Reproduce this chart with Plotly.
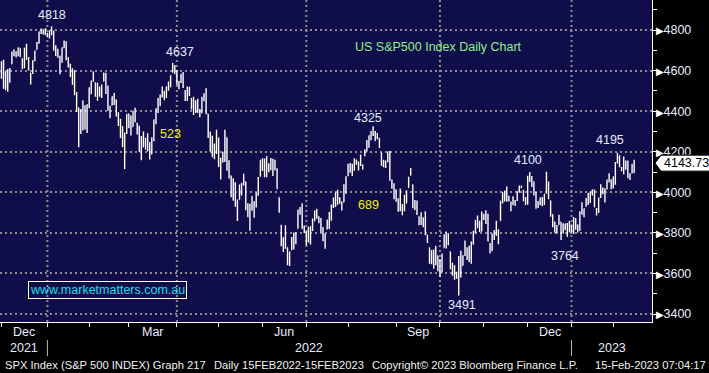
import plotly.graph_objects as go

# ---------------- data (S&P 500 daily OHLC) ----------------
month_days = {
    "2021-11": [30],
    "2021-12": [1, 2, 3, 6, 7, 8, 9, 10, 13, 14, 15, 16, 17, 20, 21, 22, 23, 27, 28, 29, 30, 31],
    "2022-01": [3, 4, 5, 6, 7, 10, 11, 12, 13, 14, 18, 19, 20, 21, 24, 25, 26, 27, 28, 31],
    "2022-02": [1, 2, 3, 4, 7, 8, 9, 10, 11, 14, 15, 16, 17, 18, 22, 23, 24, 25, 28],
    "2022-03": [1, 2, 3, 4, 7, 8, 9, 10, 11, 14, 15, 16, 17, 18, 21, 22, 23, 24, 25, 28, 29, 30, 31],
    "2022-04": [1, 4, 5, 6, 7, 8, 11, 12, 13, 14, 18, 19, 20, 21, 22, 25, 26, 27, 28, 29],
    "2022-05": [2, 3, 4, 5, 6, 9, 10, 11, 12, 13, 16, 17, 18, 19, 20, 23, 24, 25, 26, 27, 31],
    "2022-06": [1, 2, 3, 6, 7, 8, 9, 10, 13, 14, 15, 16, 17, 21, 22, 23, 24, 27, 28, 29, 30],
    "2022-07": [1, 5, 6, 7, 8, 11, 12, 13, 14, 15, 18, 19, 20, 21, 22, 25, 26, 27, 28, 29],
    "2022-08": [1, 2, 3, 4, 5, 8, 9, 10, 11, 12, 15, 16, 17, 18, 19, 22, 23, 24, 25, 26, 29, 30, 31],
    "2022-09": [1, 2, 6, 7, 8, 9, 12, 13, 14, 15, 16, 19, 20, 21, 22, 23, 26, 27, 28, 29, 30],
    "2022-10": [3, 4, 5, 6, 7, 10, 11, 12, 13, 14, 17, 18, 19, 20, 21, 24, 25, 26, 27, 28, 31],
    "2022-11": [1, 2, 3, 4, 7, 8, 9, 10, 11, 14, 15, 16, 17, 18, 21, 22, 23, 25, 28, 29, 30],
    "2022-12": [1, 2, 5, 6, 7, 8, 9, 12, 13, 14, 15, 16, 19, 20, 21, 22, 23, 27, 28, 29, 30],
    "2023-01": [3, 4, 5, 6, 9, 10, 11, 12, 13, 17, 18, 19, 20, 23, 24, 25, 26, 27, 30, 31],
    "2023-02": [1, 2, 3, 6, 7, 8, 9, 10, 13, 14],
}

opens = [
    4640.2,
    4602.8, 4504.7, 4589.5, 4548.4, 4632.0, 4690.9, 4691.0, 4687.6, 4710.3, 4642.0, 4636.5, 4719.1, 4652.5, 4587.9, 4595.0, 4650.4, 4704.0, 4734.0, 4795.5, 4788.6, 4794.2, 4775.2,
    4778.1, 4804.5, 4788.0, 4693.4, 4697.7, 4655.3, 4669.1, 4728.6, 4733.6, 4638.0, 4632.2, 4588.0, 4547.4, 4471.4, 4356.3, 4366.6, 4408.4, 4380.6, 4336.2, 4431.8,
    4519.6, 4566.4, 4535.4, 4482.8, 4505.8, 4480.0, 4547.0, 4553.2, 4506.3, 4412.6, 4429.3, 4455.8, 4456.1, 4384.6, 4332.7, 4324.9, 4155.8, 4298.4, 4354.2,
    4363.1, 4322.6, 4401.3, 4342.1, 4327.0, 4202.7, 4223.1, 4252.6, 4279.5, 4202.8, 4188.8, 4288.1, 4345.1, 4407.3, 4462.4, 4469.1, 4493.1, 4470.0, 4522.7, 4541.1, 4602.9, 4624.2, 4599.0,
    4540.3, 4548.0, 4572.5, 4494.2, 4474.7, 4494.2, 4462.6, 4437.6, 4394.3, 4449.1, 4385.6, 4390.6, 4472.3, 4489.2, 4385.8, 4255.3, 4278.1, 4186.5, 4222.6, 4253.8,
    4130.6, 4159.8, 4181.2, 4270.4, 4128.2, 4081.3, 4035.2, 3990.1, 3904.0, 3963.9, 4013.0, 4052.0, 4052.0, 3899.0, 3927.8, 3919.4, 3942.9, 3929.6, 3984.6, 4077.4, 4151.1,
    4149.8, 4095.4, 4137.6, 4134.7, 4096.5, 4147.1, 4101.7, 3974.4, 3838.2, 3763.5, 3764.1, 3728.2, 3665.9, 3715.3, 3733.9, 3774.7, 3821.8, 3920.8, 3913.0, 3825.1, 3786.0,
    3781.0, 3792.6, 3832.0, 3858.9, 3888.3, 3880.9, 3852.0, 3779.7, 3764.0, 3818.0, 3883.8, 3860.7, 3935.3, 3955.5, 3998.4, 3965.7, 3953.2, 3951.4, 4026.1, 4087.3,
    4112.4, 4104.2, 4108.0, 4154.9, 4115.9, 4155.9, 4133.1, 4181.0, 4227.4, 4225.0, 4269.4, 4290.5, 4280.4, 4273.1, 4266.3, 4195.1, 4133.1, 4126.6, 4153.3, 4198.7, 4034.6, 4041.3, 4000.7,
    3936.7, 3994.7, 3930.9, 3909.4, 3959.9, 4022.9, 4083.7, 4037.1, 3940.7, 3932.4, 3881.0, 3849.9, 3875.2, 3871.4, 3782.4, 3727.1, 3682.7, 3686.4, 3651.9, 3687.0, 3633.5,
    3609.8, 3726.5, 3753.2, 3772.0, 3706.7, 3647.5, 3595.9, 3590.8, 3520.4, 3690.4, 3638.7, 3746.3, 3703.1, 3689.1, 3657.1, 3762.0, 3799.4, 3826.0, 3834.7, 3808.3, 3881.9,
    3901.8, 3852.9, 3733.3, 3767.0, 3780.7, 3817.0, 3810.9, 3859.9, 3963.7, 3978.0, 4006.4, 3976.8, 3919.3, 3966.4, 3956.2, 3965.5, 4000.3, 4023.3, 4005.4, 3964.2, 3957.2,
    4087.1, 4040.2, 4052.0, 3996.6, 3933.3, 3947.8, 3954.2, 3939.3, 4069.4, 4015.5, 3958.4, 3890.9, 3853.8, 3810.5, 3839.5, 3853.3, 3815.1, 3843.3, 3829.6, 3805.5, 3829.1,
    3853.3, 3840.4, 3839.7, 3823.4, 3910.8, 3888.6, 3932.4, 3977.6, 3960.6, 3999.3, 4002.3, 3911.8, 3909.0, 3978.1, 4001.7, 3982.7, 4036.1, 4053.7, 4049.3, 4020.9,
    4070.1, 4158.7, 4136.7, 4119.6, 4105.4, 4153.0, 4144.3, 4068.9, 4096.6, 4126.7,
]

highs = [
    4646.0,
    4652.9, 4595.5, 4608.0, 4612.6, 4694.0, 4705.1, 4695.3, 4713.6, 4710.3, 4660.5, 4712.6, 4732.0, 4666.7, 4587.9, 4651.1, 4697.7, 4740.7, 4791.5, 4807.0, 4804.1, 4808.9, 4786.8,
    4796.6, 4818.6, 4797.7, 4725.0, 4708.0, 4673.0, 4714.1, 4748.8, 4744.1, 4665.1, 4632.2, 4611.6, 4602.1, 4494.5, 4417.4, 4411.0, 4453.2, 4428.7, 4432.7, 4516.9,
    4550.5, 4595.3, 4542.9, 4539.7, 4521.9, 4531.3, 4590.0, 4588.9, 4526.3, 4426.2, 4472.8, 4489.6, 4456.1, 4394.6, 4362.1, 4325.7, 4294.7, 4385.3, 4388.8,
    4378.5, 4401.5, 4416.8, 4342.1, 4327.0, 4276.9, 4299.4, 4268.3, 4291.0, 4247.6, 4271.1, 4358.0, 4412.7, 4465.4, 4481.8, 4522.0, 4501.1, 4520.6, 4546.0, 4575.6, 4637.3, 4627.8, 4603.1,
    4548.7, 4583.5, 4593.5, 4503.9, 4521.2, 4520.4, 4464.4, 4471.0, 4453.9, 4460.5, 4410.3, 4471.0, 4488.3, 4512.9, 4385.8, 4299.0, 4278.1, 4240.7, 4308.5, 4269.7,
    4169.8, 4200.1, 4307.7, 4270.4, 4157.7, 4081.3, 4068.8, 4049.1, 3964.8, 4038.9, 4046.5, 4090.7, 4052.0, 3946.0, 3943.4, 3981.9, 3955.7, 3999.3, 4075.1, 4158.5, 4168.3,
    4166.5, 4177.5, 4142.7, 4168.8, 4164.9, 4160.1, 4119.1, 3974.4, 3838.2, 3778.2, 3837.6, 3728.2, 3707.7, 3779.7, 3801.8, 3802.6, 3913.7, 3927.7, 3945.9, 3836.5, 3807.9,
    3829.8, 3832.2, 3870.9, 3910.6, 3918.5, 3880.9, 3873.4, 3829.4, 3796.4, 3863.6, 3902.4, 3939.8, 3974.1, 3999.3, 4012.4, 3975.3, 3953.2, 4039.6, 4079.0, 4140.2,
    4144.9, 4140.5, 4167.7, 4161.3, 4151.6, 4186.6, 4137.3, 4211.0, 4257.9, 4280.5, 4301.8, 4325.3, 4302.2, 4292.5, 4266.3, 4195.1, 4159.8, 4156.6, 4200.5, 4203.0, 4063.0, 4045.0, 4015.4,
    3970.2, 4018.4, 3942.6, 3987.9, 4010.5, 4076.8, 4119.3, 4037.1, 3961.9, 3959.1, 3881.0, 3900.5, 3876.0, 3907.1, 3790.2, 3727.1, 3715.7, 3717.5, 3736.7, 3687.0, 3671.4,
    3698.3, 3791.9, 3806.9, 3797.9, 3706.7, 3652.2, 3640.7, 3608.3, 3685.4, 3712.0, 3689.7, 3762.8, 3728.6, 3736.0, 3757.9, 3810.7, 3862.8, 3886.2, 3859.9, 3905.4, 3893.7,
    3911.8, 3894.4, 3750.6, 3796.3, 3814.0, 3859.4, 3818.2, 3958.3, 4001.5, 4009.0, 4028.8, 3983.1, 3954.3, 3979.9, 3962.0, 4003.5, 4033.8, 4034.0, 4012.3, 3976.8, 4080.1,
    4100.5, 4080.5, 4052.5, 4001.5, 3957.6, 3974.2, 3977.0, 3990.7, 4101.0, 4053.8, 3958.4, 3890.9, 3854.9, 3838.2, 3889.3, 3853.3, 3845.8, 3846.7, 3848.3, 3858.2, 3839.9,
    3878.5, 3873.2, 3839.7, 3906.2, 3950.6, 3919.8, 3970.1, 3997.8, 4004.0, 4015.4, 4014.2, 3922.9, 3973.0, 4039.3, 4023.9, 4019.6, 4061.6, 4094.2, 4063.9, 4077.2,
    4149.0, 4195.4, 4182.4, 4124.6, 4176.5, 4156.9, 4156.2, 4094.4, 4138.9, 4159.8,
]

lows = [
    4560.0,
    4510.3, 4504.7, 4495.1, 4540.5, 4632.0, 4670.9, 4666.0, 4670.2, 4666.6, 4606.5, 4611.2, 4651.9, 4600.2, 4531.1, 4583.2, 4645.5, 4704.0, 4734.0, 4780.0, 4778.1, 4775.3, 4765.8,
    4758.2, 4774.3, 4699.4, 4671.3, 4662.7, 4582.2, 4638.3, 4710.0, 4650.3, 4614.8, 4568.7, 4530.2, 4478.0, 4395.3, 4222.6, 4287.1, 4304.8, 4309.5, 4292.5, 4414.0,
    4483.5, 4544.3, 4470.4, 4451.5, 4471.5, 4465.4, 4547.0, 4484.3, 4401.4, 4364.8, 4429.3, 4429.7, 4373.8, 4327.2, 4267.1, 4223.8, 4114.7, 4286.8, 4315.1,
    4279.5, 4322.6, 4345.6, 4285.0, 4199.9, 4157.9, 4223.1, 4209.8, 4200.5, 4161.7, 4187.9, 4252.0, 4335.7, 4390.6, 4424.3, 4469.1, 4455.8, 4465.2, 4501.1, 4517.7, 4589.7, 4581.3, 4530.4,
    4507.6, 4539.2, 4514.2, 4450.0, 4450.3, 4474.6, 4408.4, 4381.3, 4392.7, 4390.8, 4370.3, 4390.6, 4448.8, 4384.5, 4267.6, 4200.8, 4175.0, 4162.9, 4188.6, 4124.3,
    4062.5, 4147.1, 4148.9, 4106.0, 4067.9, 3975.5, 3958.2, 3928.8, 3858.9, 3963.9, 3984.0, 4033.9, 3911.9, 3876.6, 3810.3, 3909.0, 3875.1, 3925.0, 3984.6, 4077.4, 4104.9,
    4073.9, 4074.4, 4098.7, 4109.2, 4080.2, 4107.2, 4017.2, 3900.2, 3734.3, 3705.7, 3722.3, 3639.8, 3636.9, 3715.3, 3717.7, 3743.5, 3821.8, 3889.7, 3820.1, 3799.0, 3738.7,
    3752.1, 3742.1, 3809.4, 3858.9, 3869.3, 3847.2, 3802.4, 3759.1, 3721.6, 3817.2, 3818.6, 3860.7, 3922.0, 3927.6, 3938.9, 3943.5, 3910.7, 3951.4, 3993.0, 4079.2,
    4096.0, 4079.8, 4108.0, 4135.4, 4107.3, 4129.0, 4112.1, 4177.3, 4201.4, 4219.8, 4256.9, 4277.8, 4253.1, 4262.0, 4218.7, 4129.9, 4124.0, 4120.0, 4147.6, 4057.7, 4017.4, 3965.2, 3954.5,
    3903.7, 3906.2, 3886.6, 3906.0, 3944.8, 4022.9, 4083.7, 3921.4, 3912.2, 3888.3, 3837.1, 3838.5, 3827.5, 3789.5, 3749.5, 3647.5, 3644.8, 3623.3, 3640.6, 3610.4, 3584.1,
    3604.9, 3726.5, 3722.7, 3739.2, 3620.7, 3588.1, 3568.5, 3573.9, 3491.6, 3579.7, 3638.7, 3686.5, 3666.5, 3656.4, 3647.4, 3741.7, 3799.4, 3824.1, 3803.8, 3808.3, 3863.2,
    3843.8, 3758.7, 3698.2, 3708.8, 3764.7, 3786.3, 3744.2, 3859.9, 3944.8, 3956.4, 3953.2, 3954.3, 3906.5, 3936.0, 3933.3, 3956.9, 3998.7, 4020.8, 3955.8, 3937.7, 3938.6,
    4050.9, 4026.6, 3984.5, 3918.4, 3922.7, 3935.8, 3933.0, 3937.7, 3993.0, 3965.7, 3879.5, 3827.9, 3800.0, 3795.6, 3839.5, 3764.5, 3797.0, 3813.2, 3780.8, 3805.5, 3800.3,
    3794.3, 3815.8, 3802.4, 3809.6, 3890.4, 3877.3, 3928.5, 3937.6, 3947.7, 3984.6, 3926.6, 3885.5, 3897.9, 3971.6, 3989.8, 3949.1, 4013.3, 4048.7, 4015.6, 4020.4,
    4037.2, 4141.9, 4123.4, 4104.0, 4088.4, 4111.7, 4069.7, 4060.8, 4092.7, 4095.0,
]

closes = [
    4567.0,
    4513.0, 4577.1, 4538.4, 4591.7, 4686.8, 4701.2, 4667.5, 4712.0, 4669.0, 4634.1, 4709.9, 4668.7, 4620.6, 4568.0, 4649.2, 4696.6, 4725.8, 4791.2, 4786.4, 4793.1, 4778.7, 4766.2,
    4796.6, 4793.5, 4700.6, 4696.1, 4677.0, 4670.3, 4713.1, 4726.4, 4659.0, 4662.9, 4577.1, 4532.8, 4482.7, 4397.9, 4410.1, 4356.5, 4349.9, 4326.5, 4431.9, 4515.6,
    4546.5, 4589.4, 4477.4, 4500.5, 4483.9, 4521.5, 4587.2, 4504.1, 4418.6, 4401.7, 4471.1, 4475.0, 4380.3, 4348.9, 4304.8, 4225.5, 4288.7, 4384.7, 4373.9,
    4306.3, 4386.5, 4363.5, 4328.9, 4201.1, 4170.7, 4277.9, 4259.5, 4204.3, 4173.1, 4262.5, 4357.9, 4411.7, 4463.1, 4461.2, 4511.6, 4456.2, 4520.2, 4543.1, 4575.5, 4631.6, 4602.5, 4530.4,
    4545.9, 4582.6, 4525.1, 4481.2, 4500.2, 4488.3, 4412.5, 4397.5, 4446.6, 4392.6, 4391.7, 4462.2, 4459.5, 4393.7, 4271.8, 4296.1, 4175.2, 4184.0, 4287.5, 4131.9,
    4155.4, 4175.5, 4300.2, 4146.9, 4123.3, 3991.2, 4001.1, 3935.2, 3930.1, 4023.9, 4008.0, 4088.9, 3923.7, 3901.4, 3901.4, 3973.8, 3941.5, 3978.7, 4057.8, 4158.2, 4132.2,
    4101.2, 4176.8, 4108.5, 4121.4, 4160.7, 4115.8, 4017.8, 3900.9, 3749.6, 3735.5, 3790.0, 3666.8, 3674.8, 3764.8, 3759.9, 3795.7, 3911.7, 3900.1, 3821.6, 3818.8, 3785.4,
    3825.3, 3831.4, 3845.1, 3902.6, 3899.4, 3854.4, 3818.8, 3801.8, 3790.4, 3863.2, 3830.9, 3936.7, 3959.9, 3999.0, 3961.6, 3966.8, 3921.1, 4023.6, 4072.4, 4130.3,
    4118.6, 4091.2, 4155.2, 4151.9, 4145.2, 4140.1, 4122.5, 4210.2, 4207.3, 4280.2, 4297.1, 4305.2, 4274.0, 4283.7, 4228.5, 4138.0, 4128.7, 4140.8, 4199.1, 4057.7, 4030.6, 3986.2, 3955.0,
    3966.9, 3924.3, 3908.2, 3979.9, 4006.2, 4067.4, 4110.4, 3932.7, 3946.0, 3901.4, 3873.3, 3899.9, 3855.9, 3789.9, 3758.0, 3693.2, 3655.0, 3647.3, 3719.0, 3640.5, 3585.6,
    3678.4, 3791.0, 3783.3, 3744.5, 3640.0, 3612.4, 3588.8, 3577.0, 3669.9, 3583.1, 3678.0, 3720.0, 3695.2, 3665.8, 3752.8, 3797.3, 3859.1, 3830.6, 3807.3, 3901.1, 3872.0,
    3856.1, 3759.7, 3719.9, 3770.6, 3806.8, 3828.1, 3748.6, 3956.4, 3992.9, 3957.3, 3991.7, 3959.0, 3946.6, 3965.3, 3949.9, 4003.6, 4027.3, 4026.1, 3963.9, 3957.6, 4080.1,
    4076.6, 4071.7, 3998.8, 3941.3, 3933.9, 3963.5, 3934.4, 3990.6, 4019.7, 3995.3, 3895.8, 3852.4, 3817.7, 3821.6, 3878.4, 3822.4, 3844.8, 3829.3, 3783.2, 3849.3, 3839.5,
    3824.1, 3853.0, 3808.1, 3895.1, 3892.1, 3919.3, 3969.6, 3983.2, 3999.1, 3991.0, 3928.9, 3898.9, 3972.6, 4019.8, 4017.0, 4016.2, 4060.4, 4070.6, 4017.8, 4076.6,
    4119.2, 4179.8, 4136.5, 4111.1, 4164.0, 4117.9, 4081.5, 4090.5, 4137.3, 4143.73,
]

y_ticks = [3400, 3600, 3800, 4000, 4200, 4400, 4600, 4800]
month_names = {1: "Jan", 2: "Feb", 3: "Mar", 4: "Apr", 5: "May", 6: "Jun", 7: "Jul",
               8: "Aug", 9: "Sep", 10: "Oct", 11: "Nov", 12: "Dec"}
labelled_months = [3, 6, 9, 12]
grid_months = [1, 4, 7, 10]
peak_labels = [("2022-01-04", "high", "4818", 0, 11),
               ("2022-03-29", "high", "4637", 7, 11),
               ("2022-08-16", "high", "4325", -5, 8),
               ("2022-12-01", "high", "4100", -2, 12),
               ("2023-02-02", "high", "4195", -7, 13),
               ("2022-12-22", "low", "3764", 4, -16),
               ("2022-10-13", "low", "3491", 3, -10)]
move_labels = [("523", "2022-03-28", 4287), ("689", "2022-08-12", 3935)]

# ---------------- build ----------------
dates = [f"{m}-{d:02d}" for m, ds in month_days.items() for d in ds]
assert len(dates) == len(opens) == len(highs) == len(lows) == len(closes), (
    len(dates), len(opens), len(highs), len(lows), len(closes))
base = dates.index("2022-01-03")
xs = [i - base for i in range(len(dates))]
xpos = dict(zip(dates, xs))

# month boundaries (trading-day axis)
months = []
for d, x in zip(dates, xs):
    key = d[:7]
    if not months or months[-1][0] != key:
        months.append((key, x - 1))
months = months[1:]  # Nov 2021 only partially shown
month_ticks = [t for _, t in months]

X_MIN, X_MAX = -23.7, 288.55
Y_MIN, Y_MAX = 3360.6, 4947.9

FONT = "Liberation Sans, Arial, sans-serif"
TXT = "#e6ecff"
GRID = "#8e8e8e"

fig = go.Figure()
fig.add_trace(go.Ohlc(
    x=xs, open=opens, high=highs, low=lows, close=closes,
    increasing=dict(line=dict(color="white", width=1.4)),
    decreasing=dict(line=dict(color="white", width=1.4)),
    tickwidth=0.3, hoverinfo="skip", showlegend=False,
))

shapes = []
annotations = []

# vertical quarter grid lines
for key, t in months:
    if int(key[5:]) in grid_months:
        shapes.append(dict(type="line", xref="x", yref="paper", x0=t, x1=t, y0=0, y1=1,
                           line=dict(color=GRID, width=2, dash="2px,3px"), layer="below"))

# month labels
for k, (key, t) in enumerate(months):
    m = int(key[5:])
    if m in labelled_months and k + 1 < len(months):
        c = (t + months[k + 1][1]) / 2
        annotations.append(dict(x=c, y=-0.031, xref="x", yref="paper", text=month_names[m],
                                showarrow=False, font=dict(family=FONT, size=12.5, color=TXT),
                                xanchor="center", yanchor="middle"))

# year labels & separators
year_bounds = [X_MIN] + [t for key, t in months if key.endswith("-01")] + [X_MAX]
years = ["2021", "2022", "2023"]
for i, yr in enumerate(years):
    c = (year_bounds[i] + year_bounds[i + 1]) / 2
    annotations.append(dict(x=c, y=-0.0807, xref="x", yref="paper", text=yr, showarrow=False,
                            font=dict(family=FONT, size=12.5, color=TXT),
                            xanchor="center", yanchor="middle"))
for t in year_bounds[1:-1]:
    shapes.append(dict(type="line", xref="x", yref="paper", x0=t, x1=t, y0=-0.056, y1=-0.106,
                       line=dict(color="#b8b8b8", width=1)))

# peak / trough labels
series = {"high": highs, "low": lows}
for d, kind, txt, dx, dy in peak_labels:
    i = dates.index(d)
    annotations.append(dict(x=xpos[d], y=series[kind][i], xref="x", yref="y", text=txt,
                            showarrow=False, xshift=dx, yshift=dy,
                            font=dict(family=FONT, size=12.5, color=TXT),
                            xanchor="center", yanchor="middle"))

for txt, d, yv in move_labels:
    annotations.append(dict(x=xpos[d], y=yv, xref="x", yref="y", text=txt, showarrow=False,
                            font=dict(family=FONT, size=12.5, color="#f2f200"),
                            xanchor="center", yanchor="middle"))

# chart title
annotations.append(dict(x=0.5414, y=0.854, xref="paper", yref="paper",
                        text="US S&P500 Index Daily Chart", showarrow=False,
                        font=dict(family=FONT, size=12.5, color="#8cf08c"),
                        xanchor="left", yanchor="middle"))
# website box
annotations.append(dict(x=0.1656, y=0.0994, xref="paper", yref="paper",
                        text="www.marketmatters.com.au", showarrow=False,
                        font=dict(family=FONT, size=12.5, color="#20dcf0"),
                        bordercolor="white", borderwidth=1, borderpad=1,
                        xanchor="center", yanchor="middle"))

# last price tag
last = closes[-1]
half = 8 / (322 / (Y_MAX - Y_MIN))
shapes.append(dict(type="path", xref="paper", yref="y",
                   path=(f"M 1.0046,{last} L 1.0138,{last + half} L 1.09,{last + half} "
                         f"L 1.09,{last - half} L 1.0138,{last - half} Z"),
                   fillcolor="white", line=dict(color="black", width=1), layer="above"))
annotations.append(dict(x=1.0138, y=last, xref="paper", yref="y", text=f"{last:.2f}",
                        showarrow=False, font=dict(family=FONT, size=12.5, color="black"),
                        xanchor="left", yanchor="middle", xshift=1))

# footer
footer = [("SPX Index (S&P 500 INDEX) Graph 217", 3, "left"),
          ("Daily 15FEB2022-15FEB2023", 212, "left"),
          ("Copyright\u00a9 2023 Bloomberg Finance L.P.", 370, "left"),
          ("15-Feb-2023 07:04:17", 708, "right")]
for txt, px, anc in footer:
    annotations.append(dict(x=px / 652, y=-0.1335, xref="paper", yref="paper", text=txt,
                            showarrow=False, font=dict(family=FONT, size=11.2, color="#f0f0f0"),
                            xanchor=anc, yanchor="middle"))

fig.update_layout(
    width=709, height=373,
    margin=dict(l=0, r=57, t=0, b=51),
    paper_bgcolor="black", plot_bgcolor="#100e4a",
    showlegend=False, hovermode=False,
    shapes=shapes, annotations=annotations,
    xaxis=dict(range=[X_MIN, X_MAX], rangeslider=dict(visible=False), showgrid=False,
               zeroline=False, tickmode="array", tickvals=month_ticks, ticks="outside",
               ticklen=4, tickcolor="white", tickwidth=1, showticklabels=False,
               showline=True, linecolor="white", linewidth=1),
    yaxis=dict(range=[Y_MIN, Y_MAX], side="right", tickmode="array", tickvals=y_ticks,
               ticktext=[f'<span style="color:white;font-size:10px">\u25b6</span>{v}' for v in y_ticks],
               ticks="", showgrid=True, gridcolor=GRID, gridwidth=2, griddash="2px,3px",
               zeroline=False, showline=True, linecolor="white", linewidth=1,
               tickfont=dict(family=FONT, size=12.5, color=TXT),
               minor=dict(ticks="outside", ticklen=4, tickcolor="white", dtick=100,
                          tick0=3400, showgrid=False)),
)

fig.write_html("out.html", config={"displayModeBar": False, "staticPlot": True},
               post_script="document.body.style.margin='0';document.body.style.background='black';")
